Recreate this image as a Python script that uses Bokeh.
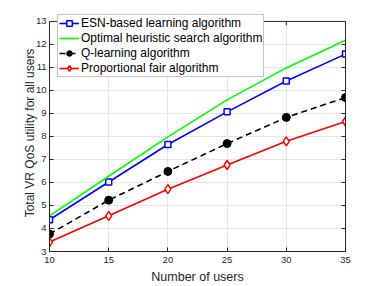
from bokeh.plotting import figure
from bokeh.models import LinearAxis, Range1d, Legend, LegendItem, FixedTicker, Span, BoxAnnotation
from bokeh.embed import file_html
from bokeh.resources import INLINE

users = [10, 15, 20, 25, 30, 35]
esn = [4.38, 6.02, 7.65, 9.07, 10.41, 11.58]
optimal = [4.55, 6.27, 7.98, 9.59, 10.98, 12.18]
qlearn = [3.76, 5.23, 6.48, 7.69, 8.83, 9.69]
propfair = [3.41, 4.55, 5.71, 6.76, 7.79, 8.65]

x_ticks = [10, 15, 20, 25, 30, 35]
y_ticks = [3, 4, 5, 6, 7, 8, 9, 10, 11, 12, 13]

FONT = "Liberation Sans"
AX = "#262626"

Y_MIN, Y_MAX = 3, 13
PX_PER_UNIT = 23.2
EXTRA_TOP_PX = 7  # room above the axes box so the legend can poke out
y_top = Y_MAX + EXTRA_TOP_PX / PX_PER_UNIT

p = figure(width=382, height=286, output_backend="svg", toolbar_location=None,
           x_range=Range1d(10, 35), y_range=Range1d(Y_MIN, y_top),
           min_border_left=49, min_border_right=37, min_border_top=14, min_border_bottom=33)
p.outline_line_color = None

for ax in (p.xaxis[0], p.yaxis[0]):
    ax.major_tick_in = 4
    ax.major_tick_out = 0
    ax.minor_tick_in = 0
    ax.minor_tick_out = 0
    ax.axis_line_color = AX
    ax.major_tick_line_color = AX
    ax.major_label_text_font = FONT
    ax.major_label_text_font_size = "9.5px"
    ax.major_label_text_color = AX
    ax.axis_label_text_font = FONT
    ax.axis_label_text_font_style = "normal"
    ax.axis_label_text_color = AX

p.xaxis[0].ticker = FixedTicker(ticks=x_ticks)
p.yaxis[0].ticker = FixedTicker(ticks=y_ticks)
p.yaxis[0].bounds = (Y_MIN, Y_MAX)
p.xaxis[0].axis_label = "Number of users"
p.yaxis[0].axis_label = "Total VR QoS utility for all users"
p.xaxis[0].axis_label_text_font_size = "12.5px"
p.yaxis[0].axis_label_text_font_size = "12px"
p.xaxis[0].axis_label_standoff = 4
p.yaxis[0].axis_label_standoff = -4
p.xaxis[0].major_label_standoff = 5
p.yaxis[0].major_label_standoff = 3

right = LinearAxis(ticker=FixedTicker(ticks=y_ticks), major_label_text_font_size="0px",
                   major_tick_in=4, major_tick_out=0, minor_tick_in=0, minor_tick_out=0,
                   axis_line_color=AX, major_tick_line_color=AX, major_label_standoff=0,
                   bounds=(Y_MIN, Y_MAX))
p.add_layout(right, "right")

p.xgrid.ticker = FixedTicker(ticks=x_ticks)
p.ygrid.ticker = FixedTicker(ticks=y_ticks)
p.grid.grid_line_color = "#e6e6e6"
p.grid.grid_line_width = 1

r_esn_l = p.line(users, esn, line_color="#0000ff", line_width=1.6)
r_esn_m = p.scatter(users, esn, marker="square", size=6, fill_color="white", line_color="#0000ff", line_width=1.5)
r_opt = p.line(users, optimal, line_color="#00ff00", line_width=1.6)
r_q_l = p.line(users, qlearn, line_color="black", line_width=1.6, line_dash="6 4")
r_q_m = p.scatter(users, qlearn, marker="circle", size=8, fill_color="black", line_color="black")
r_p_l = p.line(users, propfair, line_color="#ff0000", line_width=1.6)
r_p_m = p.scatter(users, propfair, marker="diamond", size=9, fill_color="white", line_color="#ff0000", line_width=1.5)

# top edge of the axes box with inward ticks
tick_len = 4 / PX_PER_UNIT
p.segment(x0=x_ticks, y0=[Y_MAX] * len(x_ticks), x1=x_ticks, y1=[Y_MAX - tick_len] * len(x_ticks),
          line_color=AX, line_width=1)
p.add_layout(BoxAnnotation(bottom=Y_MAX, fill_color="white", fill_alpha=1, line_color=None))
p.add_layout(Span(location=Y_MAX, dimension="width", line_color=AX, line_width=1))

legend = Legend(items=[
    LegendItem(label="ESN-based learning algorithm", renderers=[r_esn_l, r_esn_m]),
    LegendItem(label="Optimal heuristic search algorithm", renderers=[r_opt]),
    LegendItem(label="Q-learning algorithm", renderers=[r_q_l, r_q_m]),
    LegendItem(label="Proportional fair algorithm", renderers=[r_p_l, r_p_m]),
], location=(8, 174))
legend.label_text_font = FONT
legend.label_text_font_size = "12px"
legend.label_text_color = "black"
legend.label_height = 14
legend.glyph_height = 14
legend.glyph_width = 20
legend.spacing = 1
legend.padding = 1
legend.margin = 0
legend.label_standoff = 2
legend.border_line_color = "#8c8c8c"
legend.border_line_width = 1
legend.background_fill_color = "white"
legend.background_fill_alpha = 1
p.add_layout(legend, "center")

open("out.html", "w").write(file_html(p, INLINE))
